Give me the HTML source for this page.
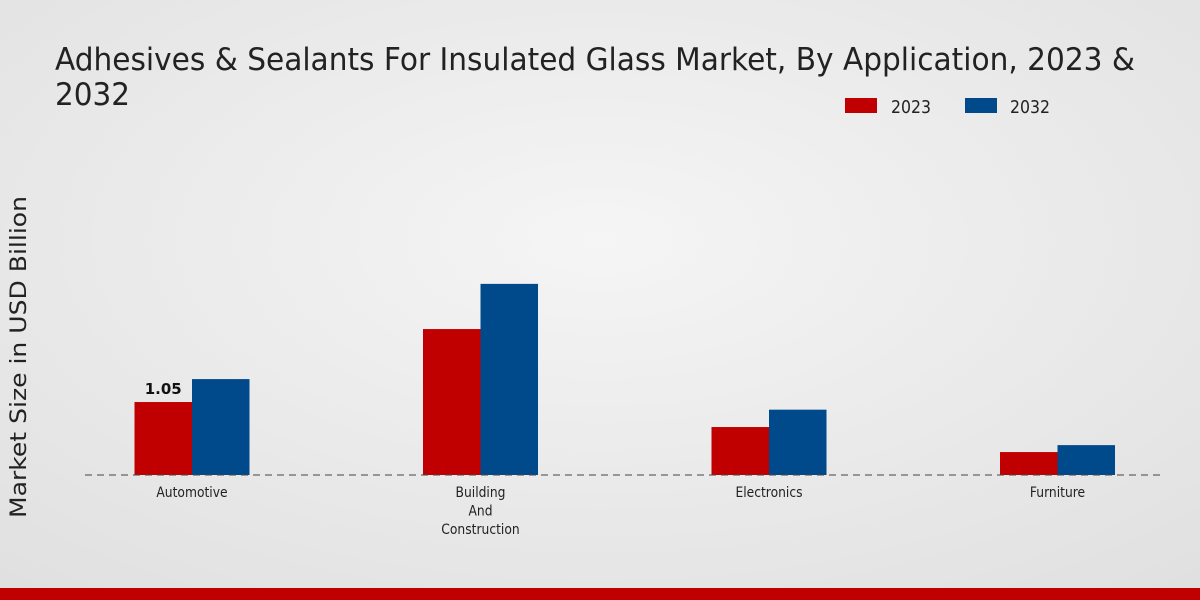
<!DOCTYPE html>
<html><head><meta charset="utf-8"><style>
body{margin:0;width:1200px;height:600px;overflow:hidden;font-family:"DejaVu Sans","Liberation Sans",sans-serif}
svg{display:block}
</style></head><body>
<svg id="chart" width="1200" height="600">
<defs><radialGradient id="bg" cx="0.5" cy="0.4" r="0.8"><stop offset="0" stop-color="#f5f5f5"/><stop offset="1" stop-color="#dfdfdf"/></radialGradient></defs>
<rect width="1200" height="600" fill="url(#bg)"/>
<text x="55" y="70" font-size="31" fill="#222" textLength="1080" lengthAdjust="spacingAndGlyphs">Adhesives &amp; Sealants For Insulated Glass Market, By Application, 2023 &amp;</text>
<text x="55" y="105" font-size="31" fill="#222" textLength="75" lengthAdjust="spacingAndGlyphs">2032</text>
<g>
<rect x="845" y="98" width="32" height="15" fill="#c00000"/>
<text x="891" y="113" font-size="18" fill="#222" textLength="40" lengthAdjust="spacingAndGlyphs">2023</text>
<rect x="965" y="98" width="32" height="15" fill="#004a8c"/>
<text x="1010" y="113" font-size="18" fill="#222" textLength="40" lengthAdjust="spacingAndGlyphs">2032</text>
</g>
<text transform="translate(26,357) rotate(-90)" text-anchor="middle" font-size="22" fill="#222" textLength="322" lengthAdjust="spacingAndGlyphs">Market Size in USD Billion</text>
<g id="bars"></g>
<line x1="85" y1="475" x2="1165" y2="475" stroke="#444" stroke-dasharray="7,5"/>
<rect x="0" y="588" width="1200" height="12" fill="#c00000"/>
</svg>
<script>
const categories=["Automotive","Building And Construction","Electronics","Furniture"];
const values2023=[1.05,2.10,0.69,0.33];
const values2032=[1.38,2.75,0.94,0.43];
const labels=[["Automotive"],["Building","And","Construction"],["Electronics"],["Furniture"]];
const NS="http://www.w3.org/2000/svg";
const g=document.getElementById("bars");
const base=475,scale=69.5,first=192,step=288.5,bw=57.5;
const y=v=>base-v*scale;
const x=i=>first+i*step;
function mk(t,a){const e=document.createElementNS(NS,t);for(const k in a)e.setAttribute(k,a[k]);g.appendChild(e);return e;}
categories.forEach((c,i)=>{
 const r1=mk("rect",{x:x(i)-bw,y:y(values2023[i]),width:bw,height:base-y(values2023[i]),fill:"#c00000"});
 
 
 const r2=mk("rect",{x:x(i),y:y(values2032[i]),width:bw,height:base-y(values2032[i]),fill:"#004a8c"});
 
 
 labels[i].forEach((l,j)=>{
  const t=mk("text",{x:x(i),y:497+j*18.5,"text-anchor":"middle","font-size":"14",fill:"#222",transform:"translate("+x(i)+",0) scale(0.88,1) translate("+(-x(i))+",0)"});
  t.textContent=l;
  
  
 });
});
const v=mk("text",{x:x(0)-bw/2,y:y(values2023[0])-8,"text-anchor":"middle","font-size":"15","font-weight":"bold",fill:"#111"});
v.textContent=values2023[0].toFixed(2);


</script>
</body></html>
